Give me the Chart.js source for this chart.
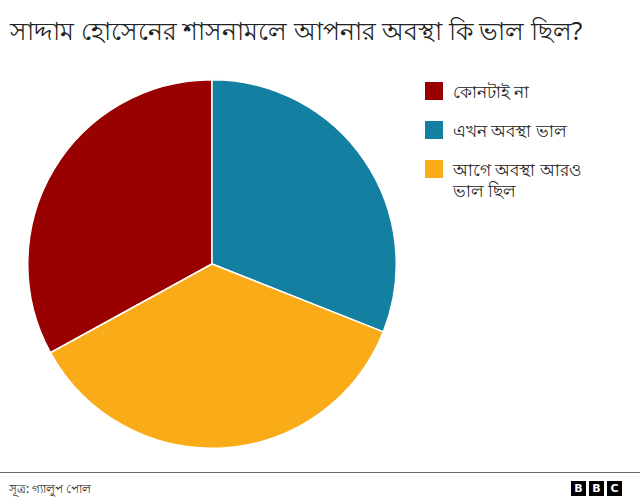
<!DOCTYPE html>
<html>
<head>
<meta charset="utf-8">
<script src="https://cdn.jsdelivr.net/npm/chart.js@4"></script>
<style>
  body { margin: 0; width: 640px; height: 503px; background: #fff; font-family: "Noto Sans", Arial, sans-serif; color: #222; position: relative; overflow: hidden; }
  #title { position: absolute; left: 10px; top: 12px; font-size: 25px; white-space: nowrap; }
  #pieBox { position: absolute; left: 27px; top: 79px; width: 370px; height: 370px; }
  #legend { position: absolute; left: 425px; top: 81px; width: 172px; }
  .item { display: flex; align-items: flex-start; margin-bottom: 18px; font-size: 17px; line-height: 21px; }
  .sw { width: 18px; height: 18px; flex: none; margin-right: 10px; margin-top: 1px; }
  #rule { position: absolute; left: 0; top: 472px; width: 640px; height: 1px; background: #666; }
  #source { position: absolute; left: 9px; top: 480px; font-size: 12px; }
  #bbc { position: absolute; left: 571px; top: 481px; display: flex; gap: 3px; }
  #bbc span { width: 15px; height: 15px; background: #000; color: #fff; font: bold 11px "DejaVu Sans", sans-serif; text-align: center; line-height: 15px; }
</style>
</head>
<body>
<div id="title">সাদ্দাম হোসেনের শাসনামলে আপনার অবস্থা কি ভাল ছিল?</div>
<div id="pieBox"><canvas id="pie"></canvas></div>
<div id="legend"></div>
<div id="rule"></div>
<div id="source">সূত্র: গ্যালুপ পোল</div>
<div id="bbc"><span>B</span><span>B</span><span>C</span></div>
<script>
// উত্তরের ভাগ (%)
const labels = ['কোনটাই না', 'এখন অবস্থা ভাল', 'আগে অবস্থা আরও ভাল ছিল'];
const values = [33, 31, 36];
const colors = ['#990000', '#1380A1', '#FAAB18'];

// লেজেন্ড
const legend = document.getElementById('legend');
labels.forEach((l, i) => {
    const row = document.createElement('div');
    row.className = 'item';
    row.innerHTML = '<div class="sw" style="background:' + colors[i] + '"></div><div>' + l + '</div>';
    legend.appendChild(row);
});

const total = values.reduce((a, b) => a + b, 0);
const ctx = document.getElementById('pie').getContext('2d');
new Chart(ctx, {
    type: 'pie',
    data: {
        labels: labels,
        datasets: [{
            data: values,
            backgroundColor: colors,
            borderColor: '#fff',
            borderWidth: 1.5
        }]
    },
    options: {
        responsive: true,
        maintainAspectRatio: false,
        animation: false,
        rotation: -values[0] / total * 360, // প্রথম ভাগ বাম দিকে শেষ হয় ১২টায়
        plugins: {
            legend: { display: false },
            tooltip: { enabled: false }
        }
    }
});
</script>
</body>
</html>
